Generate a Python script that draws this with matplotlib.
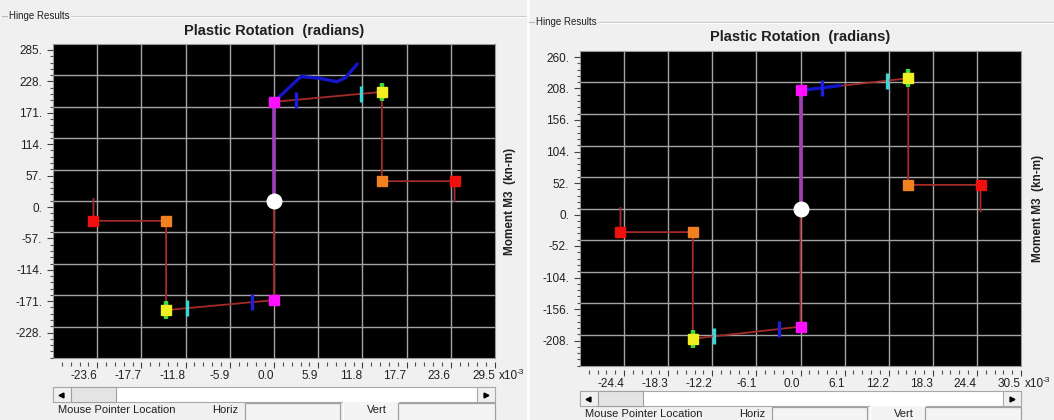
import numpy as np
import matplotlib
matplotlib.use('Agg')
import matplotlib.pyplot as plt
from matplotlib.patches import Rectangle

plt.rcParams['font.family'] = ['Liberation Sans', 'DejaVu Sans']

# ---------------- data (plastic rotation in 1e-3 rad, moment in kN-m) ----------------
# left panel
L_xlim = 29.5
L_ylim = 285.0
L_xticklabels = ['-23.6', '-17.7', '-11.8', '-5.9', '0.0', '5.9', '11.8', '17.7', '23.6', '29.5']
L_yticklabels = ['285.', '228.', '171.', '114.', '57.', '0.', '-57.', '-114.', '-171.', '-228.']
L_backbone_x = [24.1, 24.1, 14.4, 14.4, 0.0, 0.0, 0.0, -14.4, -14.4, -24.1, -24.1]
L_backbone_y = [0.0, 36.0, 36.0, 198.0, 180.0, 0.0, -180.0, -198.0, -36.0, -36.0, 4.0]
L_elastic_x = [0.0, 0.0]
L_elastic_y = [0.0, 180.0]
L_resp_x = [0.0, 3.6, 6.0, 8.4, 9.6, 11.1]
L_resp_y = [180.0, 226.0, 223.0, 216.5, 224.5, 248.7]
L_B = ([0.0, 0.0], [180.0, -180.0])
L_C = ([14.4, -14.4], [198.0, -198.0])
L_D = ([14.4, -14.4], [36.0, -36.0])
L_E = ([24.1, -24.1], [36.0, -36.0])
L_IO = ([2.9, -2.9], [183.6, -183.6])
L_LS = ([11.6, -11.6], [194.5, -194.5])

# right panel
R_xlim = 30.5
R_ylim = 260.0
R_xticklabels = ['-24.4', '-18.3', '-12.2', '-6.1', '0.0', '6.1', '12.2', '18.3', '24.4', '30.5']
R_yticklabels = ['260.', '208.', '156.', '104.', '52.', '0.', '-52.', '-104.', '-156.', '-208.']
R_backbone_x = [24.9, 24.9, 14.9, 14.9, 0.0, 0.0, 0.0, -14.9, -14.9, -24.9, -24.9]
R_backbone_y = [-5.0, 39.0, 39.0, 215.0, 195.0, 0.0, -195.0, -215.0, -39.0, -39.0, 1.0]
R_elastic_x = [0.0, 0.0]
R_elastic_y = [0.0, 195.0]
R_resp_x = [0.0, 2.9, 5.5]
R_resp_y = [195.0, 199.0, 203.0]
R_B = ([0.0, 0.0], [195.0, -195.0])
R_C = ([14.9, -14.9], [215.0, -215.0])
R_D = ([14.9, -14.9], [39.0, -39.0])
R_E = ([24.9, -24.9], [39.0, -39.0])
R_IO = ([2.95, -2.95], [199.0, -199.0])
R_LS = ([12.0, -12.0], [211.0, -211.0])

TITLE = 'Plastic Rotation  (radians)'
YLABEL = 'Moment M3  (kn-m)'

# ---------------- figure ----------------
W, H = 1054, 420
BG = '#F0F0F0'
fig = plt.figure(figsize=(W / 100, H / 100), dpi=100)
fig.patch.set_facecolor(BG)


def px_axes(x0, y0, x1, y1, **kw):
    return fig.add_axes([x0 / W, 1 - y1 / H, (x1 - x0) / W, (y1 - y0) / H], **kw)


ui = px_axes(0, 0, W, H)
ui.set_xlim(0, W)
ui.set_ylim(H, 0)
ui.axis('off')
ui.set_zorder(-10)

# right panel background covering anything from the left that spills over
ui.add_patch(Rectangle((527, 0), W - 527, H, fc=BG, ec='none', zorder=3))
ui.add_patch(Rectangle((527, 0), 3, H, fc='#FBFBFB', ec='none', zorder=3.5))


def ui_panel(dx, dy, z, plot_box, title_x, ylab_x, sy, by):
    x0, y0, x1, y1 = plot_box
    # group box line
    gy = 16 + dy
    ui.plot([dx + 2, dx + 7], [gy, gy], color='#B8B8B8', lw=0.8, zorder=z)
    ui.plot([dx + 66, dx + 527], [gy, gy], color='#C8C8C8', lw=0.8, zorder=z)
    ui.plot([dx + 66, dx + 527], [gy + 1, gy + 1], color='white', lw=0.8, zorder=z)
    ui.text(dx + 9, gy, 'Hinge Results', fontsize=7, va='center', ha='left',
            color='#202020', zorder=z + 0.5,
            bbox=dict(boxstyle='square,pad=0.15', fc=BG, ec='none'))
    # title and y label
    ui.text(title_x, 31 + dy, TITLE, fontsize=10.5, fontweight='bold', ha='center',
            va='center', color='#202020', zorder=z)
    ui.text(ylab_x, (y0 + y1) / 2, YLABEL, fontsize=8.5, fontweight='bold', rotation=90,
            ha='center', va='center', color='#202020', zorder=z)
    # x10^-3
    ui.text(x1 + 4, y1 + 18, 'x10', fontsize=8.5, ha='left', va='center',
            color='#202020', zorder=z)
    ui.text(x1 + 22, y1 + 14, '-3', fontsize=6, ha='left', va='center',
            color='#202020', zorder=z)
    # scroll bar
    sh = 15
    ui.add_patch(Rectangle((x0, sy), x1 - x0, sh, fc='white', ec='#A8A8A8', lw=0.8, zorder=z))
    ui.add_patch(Rectangle((x0, sy), 18, sh, fc='#F0F0F0', ec='#A8A8A8', lw=0.8, zorder=z))
    ui.add_patch(Rectangle((x0 + 18, sy), 45, sh, fc='#E4E4E4', ec='#A0A0A0', lw=0.8, zorder=z))
    ui.add_patch(Rectangle((x1 - 18, sy), 18, sh, fc='#F0F0F0', ec='#A8A8A8', lw=0.8, zorder=z))
    ui.plot([x0 + 8], [sy + sh / 2], marker='<', ms=3.5, color='black', zorder=z + 0.1)
    ui.plot([x1 - 9], [sy + sh / 2], marker='>', ms=3.5, color='black', zorder=z + 0.1)
    # bottom row
    ui.text(x0 + 5, by, 'Mouse Pointer Location', fontsize=8, va='center', ha='left',
            color='#202020', zorder=z)
    ui.text(x0 + 159, by, 'Horiz', fontsize=8, va='center', ha='left',
            color='#202020', zorder=z)
    ui.add_patch(Rectangle((x0 + 192, by - 7), 95, 30, fc='#F4F4F4', ec='#A0A0A0', lw=0.9, zorder=z))
    ui.add_patch(Rectangle((x0 + 290, by - 9), 55, 30, fc='#F4F4F4', ec='white', lw=0.9, zorder=z))
    ui.text(x0 + 314, by, 'Vert', fontsize=8, va='center', ha='left',
            color='#202020', zorder=z)
    ui.add_patch(Rectangle((x0 + 345, by - 7), x1 - x0 - 345, 30, fc='#F4F4F4', ec='#A0A0A0', lw=0.9, zorder=z))


def plot_panel(box, xlim, ylim, xticklabels, yticklabels, bb_x, bb_y, el_x, el_y,
               rs_x, rs_y, B, C, D, E, IO, LS):
    x0, y0, x1, y1 = box
    xmaj = np.array([float(s) for s in xticklabels])
    ymaj = np.array([float(s) for s in yticklabels])
    xstep = xmaj[1] - xmaj[0]
    ystep = abs(ymaj[0] - ymaj[1])

    ax = px_axes(x0, y0, x1, y1)
    ax.set_facecolor('black')
    ax.set_xlim(-xlim, xlim)
    ax.set_ylim(-ylim, ylim)
    ax.set_xticks(np.arange(-4, 5) * xstep)
    ax.set_yticks(np.arange(-4, 5) * ystep)
    ax.tick_params(length=0, labelbottom=False, labelleft=False)
    ax.grid(True, color='#A4A4A4', lw=1.0)
    for s in ax.spines.values():
        s.set_color('#9A9A9A')
        s.set_linewidth(0.8)

    # backbone and response
    ax.plot(bb_x, bb_y, color='#A52A2A', lw=1.3, zorder=3)
    ax.plot(el_x, el_y, color='#A040B8', lw=2.6, zorder=3.2)
    ax.plot(rs_x, rs_y, color='#1414C8', lw=2.4, zorder=3.4, solid_capstyle='round')
    # acceptance criteria bars
    ax.plot(*IO, ls='none', marker='|', ms=11, mew=2.4, color='#1E1EE0', zorder=4)
    ax.plot(*LS, ls='none', marker='|', ms=11, mew=2.4, color='#38D8D8', zorder=4)
    ax.plot(*C, ls='none', marker='|', ms=12.5, mew=3.2, color='#3CD83C', zorder=4)
    # points
    ax.plot(*B, ls='none', marker='s', ms=6.5, color='#FF10FF', zorder=5)
    ax.plot(*C, ls='none', marker='s', ms=6.5, color='#F0F020', zorder=5)
    ax.plot(*D, ls='none', marker='s', ms=6.5, color='#F08020', zorder=5)
    ax.plot(*E, ls='none', marker='s', ms=6.5, color='#F01010', zorder=5)
    ax.plot([0], [0], ls='none', marker='o', ms=10.5, color='white', zorder=6)

    # x tick row (below plot)
    axx = px_axes(x0, y0 + 4, x1, y1 + 4)
    axx.patch.set_visible(False)
    for s in axx.spines.values():
        s.set_visible(False)
    axx.set_xlim(-xlim, xlim)
    axx.set_ylim(0, 1)
    axx.set_yticks([])
    axx.set_xticks(xmaj)
    axx.set_xticklabels(xticklabels)
    axx.set_xticks([k * xstep / 5 for k in range(-24, 26) if k % 5 != 0], minor=True)
    axx.tick_params(axis='x', which='major', direction='out', length=4.5, width=0.8,
                    color='#404040', labelsize=8.5, labelcolor='#202020', pad=1.5)
    axx.tick_params(axis='x', which='minor', direction='out', length=2.8, width=0.8,
                    color='#505050')
    for lbl in axx.get_xticklabels():
        lbl.set_horizontalalignment('right')

    # y tick column (left of plot, shifted down a little)
    axy = px_axes(x0, y0 + 6, x1, y1 + 6)
    axy.patch.set_visible(False)
    for s in axy.spines.values():
        s.set_visible(False)
    axy.set_ylim(-ylim, ylim)
    axy.set_xlim(0, 1)
    axy.set_xticks([])
    axy.set_yticks(ymaj)
    axy.set_yticklabels(yticklabels)
    axy.set_yticks([k * ystep / 5 for k in range(-24, 26) if k % 5 != 0], minor=True)
    axy.tick_params(axis='y', which='major', direction='out', length=4.3, width=0.8,
                    color='#404040', labelsize=8.5, labelcolor='#202020', pad=3.5)
    axy.tick_params(axis='y', which='minor', direction='out', length=2.3, width=0.8,
                    color='#505050')
    return ax


L_box = (53, 44, 495, 358)
R_box = (580, 51, 1021, 366)

ui_panel(0, 0, 2, L_box, 274, 510, sy=387, by=410)
ui_panel(527, 6, 5, R_box, 800, 1038, sy=391, by=414)

plot_panel(L_box, L_xlim, L_ylim, L_xticklabels, L_yticklabels, L_backbone_x, L_backbone_y,
           L_elastic_x, L_elastic_y, L_resp_x, L_resp_y, L_B, L_C, L_D, L_E, L_IO, L_LS)
plot_panel(R_box, R_xlim, R_ylim, R_xticklabels, R_yticklabels, R_backbone_x, R_backbone_y,
           R_elastic_x, R_elastic_y, R_resp_x, R_resp_y, R_B, R_C, R_D, R_E, R_IO, R_LS)

fig.savefig('out.png', dpi=100, facecolor=BG)
